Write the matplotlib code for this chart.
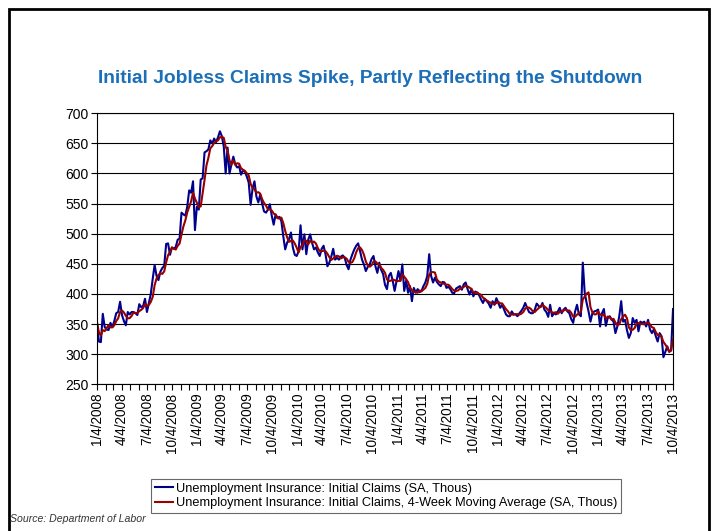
import matplotlib
matplotlib.use("Agg")
import matplotlib.pyplot as plt
import matplotlib.dates as mdates
import matplotlib.patches as patches
from matplotlib.ticker import FuncFormatter, MultipleLocator
import pandas as pd

# weekly initial claims (SA, thous), week ending dates starting 1/4/2008
claims_2008 = [352, 321, 320, 367, 345, 341, 340, 352, 345, 355,
               368, 370, 387, 365, 355, 348, 370, 366, 370, 370,
               368, 365, 383, 378, 380, 392, 370, 385, 400, 425,
               448, 430, 423, 437, 443, 447, 483, 484, 465, 477,
               475, 478, 490, 492, 535, 532, 530, 545, 572, 568,
               587, 506]
claims_2009 = [545, 540, 590, 592, 635, 637, 640, 655, 650, 658,
               652, 660, 670, 662, 645, 600, 643, 600, 615, 628,
               615, 610, 612, 598, 605, 603, 595, 585, 548, 575,
               587, 562, 552, 565, 550, 537, 535, 540, 549, 530,
               515, 532, 526, 528, 521, 496, 474, 485, 491, 502,
               477, 465]
claims_2010 = [463, 471, 514, 474, 499, 466, 490, 499, 485, 474,
               477, 469, 463, 475, 480, 466, 446, 452, 462, 475,
               457, 460, 457, 462, 464, 460, 448, 441, 457, 466,
               474, 480, 484, 471, 457, 449, 438, 445, 449, 458,
               463, 446, 435, 452, 440, 433, 415, 408, 430, 435,
               422, 405]
claims_2011 = [422, 438, 422, 449, 405, 422, 402, 413, 388, 410,
               402, 408, 403, 405, 413, 419, 430, 466, 430, 419,
               427, 420, 416, 413, 420, 419, 410, 412, 408, 402,
               401, 409, 411, 413, 407, 416, 419, 408, 399, 408,
               396, 404, 402, 398, 391, 385, 392, 388, 384, 377,
               388, 382]
claims_2012 = [393, 385, 377, 382, 374, 366, 363, 363, 371, 366,
               366, 363, 368, 372, 377, 385, 377, 370, 368, 368,
               374, 384, 380, 378, 385, 374, 370, 362, 382, 363,
               368, 366, 371, 377, 368, 374, 377, 371, 368, 358,
               352, 371, 382, 366, 363, 452, 402, 385, 371, 354,
               368, 371]
claims_2013 = [372, 374, 346, 368, 375, 347, 360, 363, 358, 354,
               335, 346, 363, 388, 354, 357, 340, 327, 335, 360,
               352, 357, 338, 354, 352, 354, 346, 357, 341, 335,
               341, 330, 321, 335, 330, 295, 304, 313, 304, 306,
               375]

claims = claims_2008 + claims_2009 + claims_2010 + claims_2011 + claims_2012 + claims_2013
dates = pd.date_range("2008-01-04", periods=len(claims), freq="7D")
s = pd.Series(claims, index=dates)
ma4 = s.rolling(4, min_periods=1).mean()

title = "Initial Jobless Claims Spike, Partly Reflecting the Shutdown"
label_ic = "Unemployment Insurance: Initial Claims (SA, Thous)"
label_ma = "Unemployment Insurance: Initial Claims, 4-Week Moving Average (SA, Thous)"

plt.rcParams["font.family"] = ["Liberation Sans", "DejaVu Sans"]

fig = plt.figure(figsize=(7.15, 5.31), dpi=100)
ax = fig.add_axes([0.1357, 0.2763, 0.8056, 0.5104])

ax.plot(s.index, s.values, color="#00008C", lw=1.5, label=label_ic)
ax.plot(ma4.index, ma4.values, color="#990000", lw=1.5, label=label_ma)

ax.set_ylim(250, 700)
ax.yaxis.set_major_locator(MultipleLocator(50))
ax.set_xlim(dates[0], dates[-1])
ax.xaxis.set_major_locator(mdates.MonthLocator(bymonth=[1, 4, 7, 10], bymonthday=4))
ax.xaxis.set_minor_locator(mdates.MonthLocator(bymonthday=4))
ax.xaxis.set_major_formatter(FuncFormatter(
    lambda v, pos: "{d.month}/{d.day}/{d.year}".format(d=mdates.num2date(v))))

ax.grid(axis="y", color="black", lw=0.8)
ax.set_axisbelow(True)
for sp in ax.spines.values():
    sp.set_color("black")
    sp.set_linewidth(0.8)
ax.tick_params(axis="x", which="both", direction="out", length=4, width=0.8,
               labelsize=9.8, rotation=90, pad=2)
ax.tick_params(axis="y", direction="out", length=4, width=0.8, labelsize=10, pad=2)

fig.text(0.518, 0.853, title, ha="center", va="center", fontsize=13.8,
         fontweight="bold", color="#1B6FB8")

leg = ax.legend(loc="center", bbox_to_anchor=(0.54, 0.066),
                bbox_transform=fig.transFigure, fontsize=9.2, frameon=True,
                fancybox=False, handlelength=1.4, handletextpad=0.2,
                borderpad=0.3, labelspacing=0.2)
leg.get_frame().set_edgecolor("#444444")
leg.get_frame().set_linewidth(0.8)

fig.text(0.014, 0.022, "Source: Department of Labor", fontsize=7.6,
         style="italic", color="#333333", ha="left", va="center")

# outer frame around the whole chart
fig.patches.append(patches.Rectangle((0.012, -0.02), 0.98, 1.003, fill=False,
                                     lw=2, edgecolor="black",
                                     transform=fig.transFigure, figure=fig))

fig.savefig("out.png", dpi=100)
